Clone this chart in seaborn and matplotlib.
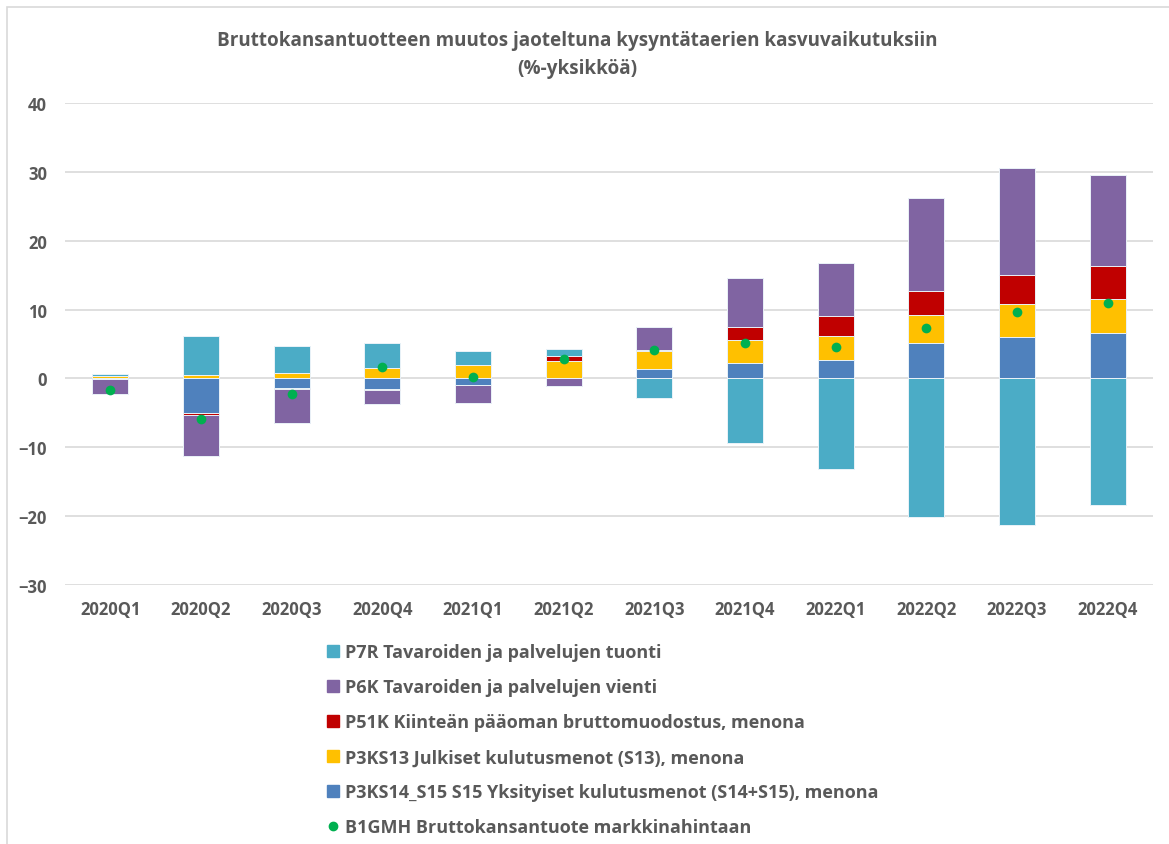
import numpy as np
import pandas as pd
import matplotlib
matplotlib.use("Agg")
import matplotlib.pyplot as plt
import matplotlib.patches as mpatches
from matplotlib.lines import Line2D
import seaborn as sns

# quarters and growth contributions (%-units)
quarters = ["2020Q1", "2020Q2", "2020Q3", "2020Q4", "2021Q1", "2021Q2",
            "2021Q3", "2021Q4", "2022Q1", "2022Q2", "2022Q3", "2022Q4"]
private_cons = [-0.1, -5.05, -1.45, -1.55, -0.95, 0.05, 1.3, 2.2, 2.65, 5.1, 6.0, 6.6]
public_cons = [0.35, 0.5, 0.8, 1.45, 2.0, 2.45, 2.65, 3.35, 3.45, 4.05, 4.75, 4.95]
investment = [0.0, -0.25, -0.1, -0.1, -0.05, 0.75, 0.2, 1.9, 3.0, 3.6, 4.25, 4.75]
exports = [-2.2, -6.0, -4.95, -2.05, -2.55, -1.05, 3.25, 7.15, 7.7, 13.4, 15.5, 13.2]
imports = [0.3, 5.6, 3.9, 3.7, 2.05, 1.0, -2.9, -9.4, -13.1, -20.15, -21.25, -18.4]
gdp = [-1.7, -5.95, -2.3, 1.7, 0.25, 2.85, 4.2, 5.15, 4.55, 7.3, 9.7, 11.0]

series_names = [
    "P3KS14_S15 S15 Yksityiset kulutusmenot (S14+S15), menona",
    "P3KS13 Julkiset kulutusmenot (S13), menona",
    "P51K Kiinteän pääoman bruttomuodostus, menona",
    "P6K Tavaroiden ja palvelujen vienti",
    "P7R Tavaroiden ja palvelujen tuonti",
]
gdp_name = "B1GMH Bruttokansantuote markkinahintaan"
colors = ["#4F81BD", "#FFC000", "#C00000", "#8064A2", "#4BACC6"]
green = "#00B050"
text_col = "#595959"

sns.set_style("white")
plt.rcParams["font.family"] = ["Open Sans", "DejaVu Sans"]

values = np.array([private_cons, public_cons, investment, exports, imports])
pos = np.clip(values, 0, None).cumsum(axis=0)
neg = np.clip(values, None, 0).cumsum(axis=0)

fig = plt.figure(figsize=(11.69, 8.45), dpi=100)
ax = fig.add_axes([0.0556, 0.3065, 0.9307, 0.5704])

# stacked bars: draw outermost cumulative layer first, inner layers on top
for k in range(len(series_names) - 1, -1, -1):
    for stack in (pos, neg):
        df = pd.DataFrame({"q": quarters, "v": stack[k]})
        sns.barplot(data=df, x="q", y="v", color=colors[k], saturation=1,
                    width=0.4, edgecolor="#EAF2F8", linewidth=0.7,
                    order=quarters, ax=ax, zorder=2)

gdf = pd.DataFrame({"q": quarters, "v": gdp})
sns.stripplot(data=gdf, x="q", y="v", color=green, jitter=False, size=7,
              order=quarters, ax=ax, zorder=5)

ax.set_ylim(-30, 40)
ax.set_xlim(-0.5, len(quarters) - 0.5)
ax.set_yticks(range(-30, 41, 10))
ax.yaxis.grid(True, color="#D9D9D9", linewidth=1.2)
ax.set_axisbelow(True)
for s in ax.spines.values():
    s.set_visible(False)
ax.set_xlabel("")
ax.set_ylabel("")
ax.tick_params(axis="y", length=0, pad=13, labelsize=12, labelcolor=text_col)
ax.tick_params(axis="x", length=0, pad=11, labelsize=12, labelcolor=text_col)
for lab in ax.get_xticklabels() + ax.get_yticklabels():
    lab.set_fontweight("bold")

fig.text(0.494, 0.935, "Bruttokansantuotteen muutos jaoteltuna kysyntätaerien kasvuvaikutuksiin\n(%-yksikköä)",
         ha="center", va="center", fontsize=13.6, fontweight="bold", color=text_col,
         linespacing=1.55)

# legend, same order as the reference
handles = [mpatches.Patch(color=colors[k]) for k in (4, 3, 2, 1, 0)]
labels = [series_names[k] for k in (4, 3, 2, 1, 0)]
handles.append(Line2D([], [], marker="o", color=green, linestyle="none", markersize=6))
labels.append(gdp_name)
leg = fig.legend(handles, labels, loc="upper left", bbox_to_anchor=(0.2797, 0.2375),
                 frameon=False, ncol=1, handlelength=0.65, handleheight=0.65,
                 handletextpad=0.35, labelspacing=0.94, borderpad=0, borderaxespad=0,
                 prop={"size": 13, "weight": "bold"})
for t in leg.get_texts():
    t.set_color(text_col)

# light chart-area border
fig.patches.append(mpatches.Rectangle((7 / 1169, -0.01), 1.05, 1 - 8 / 845 + 0.01,
                                      transform=fig.transFigure, fill=False,
                                      edgecolor="#D9D9D9", linewidth=1.2))

fig.savefig("out.png", dpi=100)
